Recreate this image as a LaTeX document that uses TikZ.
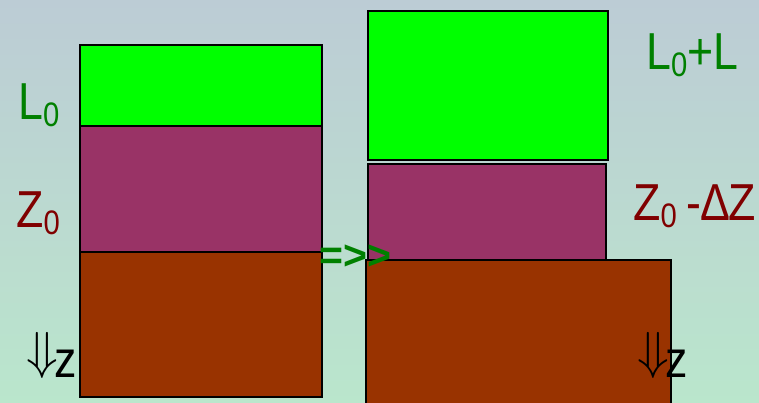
\documentclass[tikz,border=0pt]{standalone}
\usepackage{fontspec}
\usepackage{graphicx}
\setmainfont{Liberation Sans}
\newfontfamily\labfont[FakeStretch=0.86]{Liberation Sans}
\definecolor{bgtop}{RGB}{188,204,213}
\definecolor{bgbot}{RGB}{186,230,204}
\definecolor{boxgreen}{RGB}{0,255,0}
\definecolor{boxpurple}{RGB}{153,51,102}
\definecolor{boxbrown}{RGB}{153,51,0}
\definecolor{txtgreen}{RGB}{0,128,0}
\definecolor{txtred}{RGB}{128,0,0}
\newcommand{\subz}{\raisebox{-7pt}{\fontsize{34}{34}\selectfont 0}}
\newcommand{\dnz}{\raisebox{9pt}{\scalebox{5.2}{\fontsize{10}{12}\selectfont$\Downarrow$}}\hspace{-3pt}z}
\begin{document}
\begin{tikzpicture}[x=1pt,y=-1pt,
  layer/.style={draw=black,line width=1.5pt,inner sep=0pt,outer sep=0pt,anchor=north west},
  lab/.style={inner sep=0pt,anchor=base west,font=\labfont\fontsize{52}{56}\selectfont}]
\useasboundingbox (0,0) rectangle (759,403);
\shade[top color=bgtop,bottom color=bgbot] (0,0) rectangle (759,403);
% left column
\node[layer,fill=boxgreen,minimum width=242pt,minimum height=81pt] (lg) at (80,45) {};
\node[layer,fill=boxpurple,minimum width=242pt,minimum height=126pt] (lp) at (80,126) {};
\node[layer,fill=boxbrown,minimum width=242pt,minimum height=145pt] (lb) at (80,252) {};
% right column
\node[layer,fill=boxgreen,minimum width=240pt,minimum height=149pt] (rg) at (368,11) {};
\node[layer,fill=boxpurple,minimum width=238pt,minimum height=96pt] (rp) at (368,164) {};
\node[layer,fill=boxbrown,minimum width=305pt,minimum height=150pt] (rb) at (366,260) {};
% labels
\node[lab,text=txtgreen] (l0) at (18,120) {L\subz};
\node[lab,text=txtred] (z0) at (16,227) {Z\subz};
\node[lab,text=black] (dz1) at (26,377) {\dnz};
\node[lab,text=txtgreen] (l0l) at (646,70) {L\subz+L};
\node[lab,text=txtred] (z0dz) at (633,220) {Z\subz\hspace{10pt}-\hspace{-1pt}Δ\hspace{-2pt}Z};
\node[lab,text=black] (dz2) at (637,377) {\dnz};
\node[inner sep=0pt,anchor=base west,text=txtgreen,font=\bfseries\fontsize{41}{44}\selectfont] (arr) at (319,269) {=>{}>};
\end{tikzpicture}
\end{document}
